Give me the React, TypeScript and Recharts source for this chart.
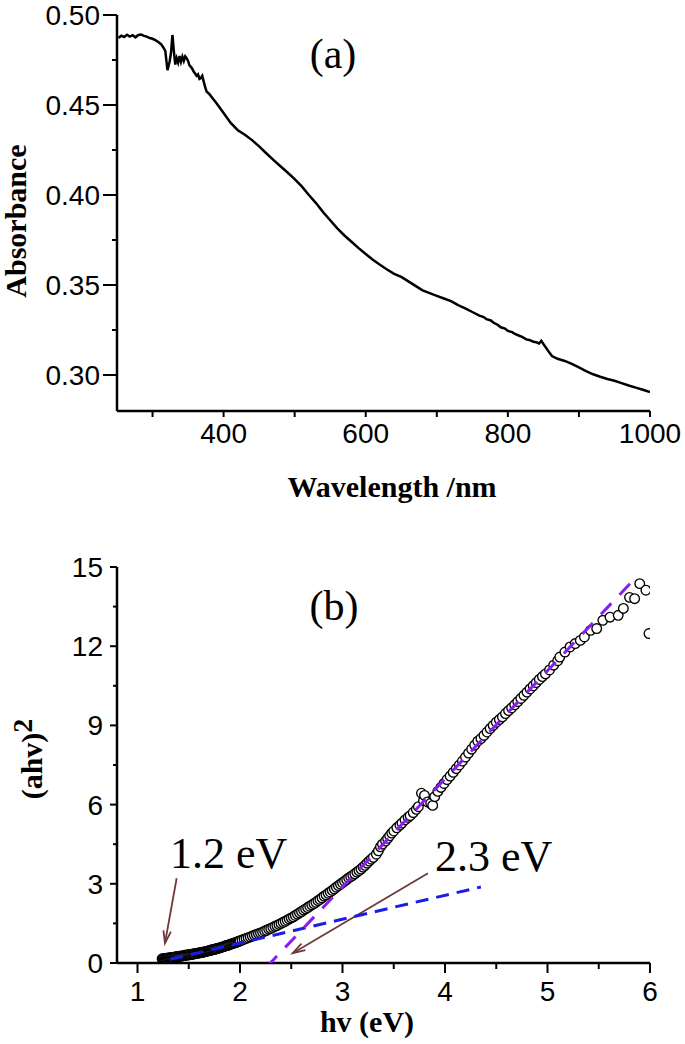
import React from 'react';
import { ComposedChart, Line, Scatter, XAxis, YAxis, ReferenceLine } from 'recharts';

// ---------- Panel (a): absorbance spectrum ----------
const wavelength = [
  252, 256, 260, 264, 268, 272, 276, 280, 284, 288, 292, 296, 300, 304, 308, 312, 316, 318,
  321, 324, 326, 328, 330, 332, 334, 336, 338, 340, 342, 344, 346, 348, 350, 352, 354, 356,
  358, 360, 362, 364, 366, 368, 370, 372, 374, 376, 380, 390, 400, 410, 420, 430, 440, 450,
  460, 470, 480, 490, 500, 510, 520, 530, 540, 550, 560, 570, 580, 590, 600, 610, 620, 630,
  640, 650, 660, 670, 680, 690, 700, 710, 720, 730, 740, 750, 760, 766, 770, 776, 780, 786,
  790, 796, 800, 806, 810, 816, 820, 826, 830, 836, 840, 844, 847, 850, 856, 862, 870, 880,
  890, 900, 910, 920, 930, 940, 950, 960, 970, 980, 990, 1000,
];
const absorbance = [
  0.4872, 0.4885, 0.4878, 0.489, 0.488, 0.4888, 0.4876, 0.4889, 0.4892, 0.4884, 0.488, 0.4872,
  0.4868, 0.486, 0.485, 0.4838, 0.4815, 0.48, 0.4694, 0.474, 0.479, 0.4889, 0.48, 0.4725,
  0.476, 0.4735, 0.4772, 0.474, 0.4768, 0.4745, 0.477, 0.476, 0.4745, 0.472, 0.4712, 0.47,
  0.4685, 0.4675, 0.4662, 0.467, 0.4645, 0.465, 0.4662, 0.463, 0.46, 0.4575, 0.456, 0.451,
  0.4455, 0.44, 0.436, 0.4335, 0.4305, 0.427, 0.4232, 0.4195, 0.416, 0.4125, 0.4088, 0.4048,
  0.4, 0.3955, 0.3905, 0.386, 0.3815, 0.3775, 0.374, 0.3705, 0.3672, 0.364, 0.3612, 0.3586,
  0.3562, 0.3545, 0.352, 0.3495, 0.347, 0.3455, 0.344, 0.3425, 0.341, 0.3388, 0.337, 0.335,
  0.333, 0.3322, 0.331, 0.3303, 0.329, 0.3278, 0.3265, 0.3258, 0.3245, 0.3238, 0.3228,
  0.3218, 0.3212, 0.3198, 0.3195, 0.3185, 0.3182, 0.3175, 0.319, 0.3172, 0.3138, 0.3105,
  0.309, 0.3078, 0.3062, 0.3042, 0.3022, 0.3004, 0.299, 0.2978, 0.2968, 0.2955, 0.2942,
  0.293, 0.2918, 0.2905,
];
const wlTicks = [300, 400, 500, 600, 700, 800, 900, 1000];
const wlMajor = [400, 600, 800, 1000];
const absTicks = [0.3, 0.325, 0.35, 0.375, 0.4, 0.425, 0.45, 0.475, 0.5];
const absMajor = [0.3, 0.35, 0.4, 0.45, 0.5];

// ---------- Panel (b): Tauc plot ----------
const photonEnergy = [
  1.24, 1.25, 1.26, 1.27, 1.28, 1.29, 1.3, 1.31, 1.32, 1.33, 1.34, 1.35, 1.36, 1.37, 1.38, 1.39,
  1.4, 1.41, 1.42, 1.43, 1.44, 1.45, 1.46, 1.47, 1.48, 1.49, 1.5, 1.51, 1.52, 1.53, 1.54, 1.55,
  1.56, 1.57, 1.58, 1.59, 1.6, 1.61, 1.62, 1.63, 1.64, 1.65, 1.66, 1.67, 1.68, 1.69, 1.7, 1.71,
  1.72, 1.73, 1.74, 1.75, 1.76, 1.77, 1.78, 1.79, 1.8, 1.81, 1.82, 1.83, 1.84, 1.85, 1.86, 1.87,
  1.88, 1.89, 1.9, 1.91, 1.92, 1.93, 1.94, 1.95, 1.96, 1.97, 1.98, 1.99, 2.0,
  2.02, 2.04, 2.06, 2.08, 2.1, 2.12, 2.14, 2.16, 2.18, 2.2, 2.22, 2.24, 2.26, 2.28, 2.3, 2.32,
  2.34, 2.36, 2.38, 2.4, 2.42, 2.44, 2.46, 2.48, 2.5, 2.52, 2.54, 2.56, 2.58, 2.6, 2.62, 2.64,
  2.66, 2.68, 2.7, 2.72, 2.74, 2.76, 2.78, 2.8, 2.82, 2.84, 2.86, 2.88, 2.9, 2.92, 2.94, 2.96,
  2.98, 3.0, 3.02, 3.04, 3.06, 3.08, 3.1, 3.12, 3.14, 3.16, 3.18, 3.2, 3.22, 3.24, 3.26, 3.28, 3.3,
  3.33, 3.35, 3.37, 3.39, 3.42, 3.44, 3.46, 3.48, 3.5, 3.53, 3.56, 3.58, 3.61, 3.64, 3.66, 3.69,
  3.72, 3.74, 3.77, 3.79, 3.8, 3.83, 3.86, 3.88, 3.9, 3.93, 3.96, 3.99, 4.02, 4.05, 4.08, 4.11,
  4.14, 4.17, 4.2, 4.23, 4.26, 4.29, 4.32, 4.35, 4.38, 4.41, 4.44, 4.47, 4.5, 4.53, 4.56, 4.59,
  4.62, 4.65, 4.68, 4.71, 4.74, 4.77, 4.8, 4.83, 4.86, 4.89, 4.92, 4.95, 4.98, 5.02, 5.06, 5.1,
  5.12, 5.17, 5.22, 5.27, 5.32, 5.36, 5.42, 5.48, 5.54, 5.61, 5.69, 5.74, 5.8, 5.85, 5.9, 5.96,
  5.99,
];
const ahv2 = [
  0.16, 0.165, 0.17, 0.175, 0.18, 0.185, 0.19, 0.195, 0.2, 0.205, 0.21, 0.215, 0.22, 0.23, 0.24,
  0.245, 0.25, 0.255, 0.26, 0.265, 0.27, 0.28, 0.29, 0.295, 0.3, 0.305, 0.31, 0.315, 0.32, 0.33,
  0.34, 0.345, 0.35, 0.36, 0.37, 0.375, 0.38, 0.39, 0.4, 0.405, 0.41, 0.42, 0.43, 0.44, 0.45,
  0.46, 0.47, 0.48, 0.49, 0.5, 0.51, 0.52, 0.53, 0.54, 0.55, 0.56, 0.57, 0.585, 0.6, 0.61, 0.62,
  0.635, 0.65, 0.66, 0.67, 0.685, 0.7, 0.715, 0.73, 0.74, 0.75, 0.765, 0.78, 0.795, 0.81, 0.825,
  0.84,
  0.87, 0.9, 0.93, 0.96, 0.99, 1.02, 1.05, 1.08, 1.11, 1.14, 1.17, 1.21, 1.24, 1.28, 1.31, 1.35,
  1.39, 1.42, 1.46, 1.5, 1.54, 1.58, 1.62, 1.67, 1.71, 1.75, 1.8, 1.85, 1.9, 1.95, 2.0, 2.05,
  2.1, 2.15, 2.2, 2.25, 2.3, 2.36, 2.41, 2.47, 2.53, 2.58, 2.64, 2.69, 2.75, 2.81, 2.87, 2.93,
  2.99, 3.04, 3.1, 3.16, 3.22, 3.27, 3.32, 3.38, 3.44, 3.5, 3.56, 3.63, 3.7, 3.78, 3.86, 3.93, 4.0,
  4.12, 4.25, 4.4, 4.5, 4.62, 4.72, 4.82, 4.92, 5.0, 5.12, 5.22, 5.3, 5.42, 5.52, 5.58, 5.7,
  5.82, 5.92, 6.43, 6.15, 6.35, 6.1, 6.05, 5.97, 6.3, 6.5, 6.65, 6.8, 6.95, 7.08, 7.22, 7.36,
  7.5, 7.65, 7.8, 7.95, 8.1, 8.25, 8.4, 8.5, 8.62, 8.75, 8.88, 9.0, 9.12, 9.22, 9.32, 9.45,
  9.56, 9.66, 9.78, 9.9, 10.02, 10.14, 10.26, 10.38, 10.5, 10.62, 10.74, 10.85, 10.95, 11.1, 11.28, 11.45,
  11.59, 11.78, 11.97, 12.1, 12.22, 12.35, 12.6, 12.67, 12.98, 13.1, 13.17, 13.43, 13.85, 13.8, 14.37, 14.12,
  12.48,
];
const directFitHv = [2.26, 5.82];
const directFitV = [-0.15, 14.43];
const indirectFitHv = [1.32, 4.35];
const indirectFitV = [0.14, 2.88];
const arrow1 = { tail: [1.382, 3.21], head: [1.268, 0.75] };
const arrow2 = { tail: [3.834, 3.4], head: [2.514, 0.37] };
const hvTicks = [1, 1.5, 2, 2.5, 3, 3.5, 4, 4.5, 5, 5.5, 6];
const hvMajor = [1, 2, 3, 4, 5, 6];
const tTicks = [0, 1.5, 3, 4.5, 6, 7.5, 9, 10.5, 12, 13.5, 15];
const tMajor = [0, 3, 6, 9, 12, 15];

const absData = wavelength.map((wl, i) => ({ wl, A: absorbance[i] }));
const taucData = photonEnergy.map((hv, i) => ({ hv, v: ahv2[i] }));
const directFit = directFitHv.map((hv, i) => ({ hv, v: directFitV[i] }));
const indirectFit = indirectFitHv.map((hv, i) => ({ hv, v: indirectFitV[i] }));

const SANS = '"Liberation Sans", Arial, sans-serif';
const SERIF = '"Liberation Serif", "Times New Roman", serif';
const AX = { stroke: '#000', strokeWidth: 2.5 };

const isIn = (arr: number[], v: number) => arr.some((a) => Math.abs(a - v) < 1e-6);

const makeXTick = (majors: number[], majLen: number, minLen: number, gap: number, fmt: (v: number) => string) =>
  (props: any) => {
    const { x, y, payload } = props;
    const major = isIn(majors, payload.value);
    return (
      <g>
        <line x1={x} x2={x} y1={y} y2={y + (major ? majLen : minLen)} stroke="#000" strokeWidth={2} />
        {major && (
          <text x={x} y={y + gap} textAnchor="middle" fontFamily={SANS} fontSize={28} fill="#000">
            {fmt(payload.value)}
          </text>
        )}
      </g>
    );
  };

const makeYTick = (majors: number[], majLen: number, minLen: number, gap: number, fmt: (v: number) => string) =>
  (props: any) => {
    const { x, y, payload } = props;
    const major = isIn(majors, payload.value);
    return (
      <g>
        <line x1={x - (major ? majLen : minLen)} x2={x} y1={y} y2={y} stroke="#000" strokeWidth={2} />
        {major && (
          <text x={x - gap} y={y + 10} textAnchor="end" fontFamily={SANS} fontSize={28} fill="#000">
            {fmt(payload.value)}
          </text>
        )}
      </g>
    );
  };

const arrowShape = (props: any) => {
  const { x1, y1, x2, y2 } = props;
  const ang = Math.atan2(y2 - y1, x2 - x1);
  const L = 13;
  const spread = 0.3;
  const ax = x2 - L * Math.cos(ang - spread);
  const ay = y2 - L * Math.sin(ang - spread);
  const bx = x2 - L * Math.cos(ang + spread);
  const by = y2 - L * Math.sin(ang + spread);
  return (
    <g stroke="#6e3a3a" strokeWidth={1.8} fill="none">
      <line x1={x1} y1={y1} x2={x2} y2={y2} />
      <polyline points={`${ax},${ay} ${x2},${y2} ${bx},${by}`} />
    </g>
  );
};

const circleShape = (props: any) => (
  <circle cx={props.cx} cy={props.cy} r={4.8} fill="#fff" stroke="#000" strokeWidth={1.35} />
);
const noShape = () => <g />;

export default function App() {
  return (
    <div style={{ position: 'absolute', left: 0, top: 0, width: 685, height: 1044, background: '#fff' }}>
      <div style={{ position: 'absolute', left: 0, top: 0 }}>
        <ComposedChart width={685} height={520} data={absData} margin={{ top: 15, right: 35, bottom: 0, left: 0 }}>
          <XAxis
            dataKey="wl"
            type="number"
            domain={[250, 1000]}
            allowDataOverflow
            ticks={wlTicks}
            interval={0}
            height={109}
            tickSize={0}
            tickMargin={0}
            tickLine={false}
            axisLine={AX}
            tick={makeXTick(wlMajor, 6, 6, 32, (v) => String(v))}
          />
          <YAxis
            type="number"
            domain={[0.28, 0.5]}
            allowDataOverflow
            ticks={absTicks}
            interval={0}
            width={117}
            tickSize={0}
            tickMargin={0}
            tickLine={false}
            axisLine={AX}
            tick={makeYTick(absMajor, 14, 5, 17, (v) => v.toFixed(2))}
          />
          <XAxis xAxisId="top" orientation="top" type="number" domain={[250, 1000]} height={0} tick={false} tickLine={false} axisLine={AX} />
          <YAxis yAxisId="right" orientation="right" type="number" domain={[0.28, 0.5]} width={0} tick={false} tickLine={false} axisLine={AX} />
          <Line dataKey="A" type="linear" stroke="#000" strokeWidth={2.5} dot={false} isAnimationActive={false} />
          <text x={333} y={68} textAnchor="middle" fontFamily={SERIF} fontSize={42} fill="#000">(a)</text>
          <text x={392} y={497} textAnchor="middle" fontFamily={SERIF} fontWeight="bold" fontSize={30} fill="#000">Wavelength /nm</text>
          <text x={26} y={221} textAnchor="middle" fontFamily={SERIF} fontWeight="bold" fontSize={30} fill="#000" transform="rotate(-90, 26, 221)">Absorbance</text>
        </ComposedChart>
      </div>
      <div style={{ position: 'absolute', left: 0, top: 540 }}>
        <ComposedChart width={685} height={504} margin={{ top: 27, right: 35, bottom: 0, left: 0 }}>
          <XAxis
            dataKey="hv"
            type="number"
            domain={[0.8, 6]}
            allowDataOverflow
            ticks={hvTicks}
            interval={0}
            height={81}
            tickSize={0}
            tickMargin={0}
            tickLine={false}
            axisLine={AX}
            tick={makeXTick(hvMajor, 10, 6, 38, (v) => String(v))}
          />
          <YAxis
            dataKey="v"
            type="number"
            domain={[0, 15]}
            allowDataOverflow
            ticks={tTicks}
            interval={0}
            width={117}
            tickSize={0}
            tickMargin={0}
            tickLine={false}
            axisLine={AX}
            tick={makeYTick(tMajor, 7, 4, 14, (v) => String(v))}
          />
          <XAxis xAxisId="top" orientation="top" type="number" domain={[0.8, 6]} height={0} tick={false} tickLine={false} axisLine={AX} />
          <YAxis yAxisId="right" orientation="right" type="number" domain={[0, 15]} width={0} tick={false} tickLine={false} axisLine={AX} />
          <Scatter data={taucData} dataKey="v" shape={circleShape} isAnimationActive={false} />
          <Scatter
            data={indirectFit}
            dataKey="v"
            shape={noShape}
            line={{ stroke: '#1c1ce8', strokeWidth: 3, strokeDasharray: '13 8' }}
            isAnimationActive={false}
          />
          <Scatter
            data={directFit}
            dataKey="v"
            shape={noShape}
            line={{ stroke: '#8a1cf0', strokeWidth: 3, strokeDasharray: '15 12' }}
            isAnimationActive={false}
          />
          <ReferenceLine
            segment={[{ x: arrow1.tail[0], y: arrow1.tail[1] }, { x: arrow1.head[0], y: arrow1.head[1] }]}
            shape={arrowShape}
            ifOverflow="visible"
          />
          <ReferenceLine
            segment={[{ x: arrow2.tail[0], y: arrow2.tail[1] }, { x: arrow2.head[0], y: arrow2.head[1] }]}
            shape={arrowShape}
            ifOverflow="visible"
          />
          <text x={334} y={80} textAnchor="middle" fontFamily={SERIF} fontSize={42} fill="#000">(b)</text>
          <text x={170} y={328} fontFamily={SERIF} fontSize={44} fill="#000">1.2 eV</text>
          <text x={435} y={331} fontFamily={SERIF} fontSize={44} fill="#000">2.3 eV</text>
          <text x={367} y={492} textAnchor="middle" fontFamily={SERIF} fontWeight="bold" fontSize={30} fill="#000">hv (eV)</text>
          <text x={42} y={219} textAnchor="middle" fontFamily={SERIF} fontWeight="bold" fontSize={30} fill="#000" transform="rotate(-90, 42, 219)">
            <tspan>(ahv)</tspan>
            <tspan dy={-10} fontSize={28}>2</tspan>
          </text>
        </ComposedChart>
      </div>
    </div>
  );
}
